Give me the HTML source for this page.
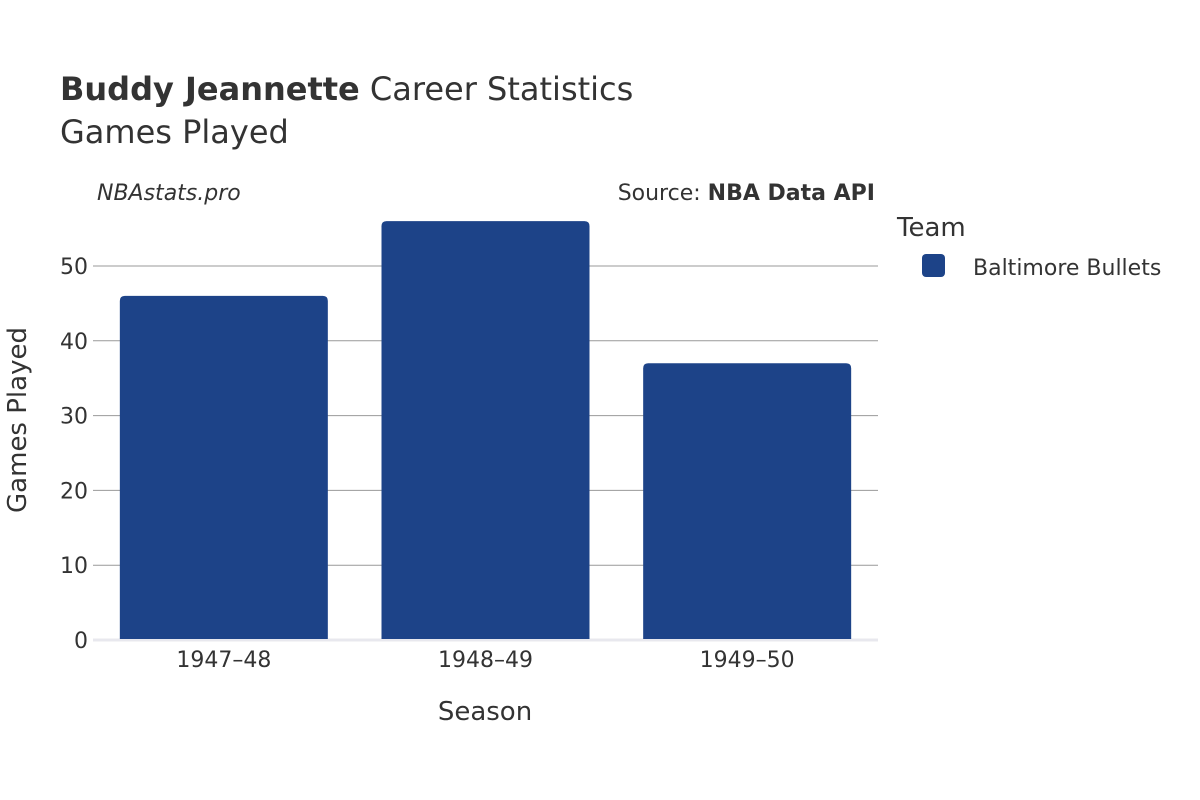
<!DOCTYPE html>
<html><head><meta charset="utf-8"><style>
body{margin:0;background:#fff;}
svg{display:block;font-family:"DejaVu Sans","Liberation Sans",sans-serif;}
</style></head><body>
<svg id="chart" width="1200" height="800">
<text x="60" y="100" font-size="32" fill="#333"><tspan font-weight="bold">Buddy Jeannette</tspan> Career Statistics</text>
<text x="60" y="143" font-size="32" fill="#333">Games Played</text>
<text x="97" y="200" font-size="22" font-style="italic" fill="#333">NBAstats.pro</text>
<text x="875" y="200" font-size="22" fill="#333" text-anchor="end">Source: <tspan font-weight="bold">NBA Data API</tspan></text>
<g id="grid"></g>
<g id="bars"></g>
<g id="xticks"></g>
<text x="485" y="720" font-size="26" fill="#333" text-anchor="middle">Season</text>
<text transform="translate(26,420) rotate(-90)" font-size="26" fill="#333" text-anchor="middle">Games Played</text>
<text x="897" y="236" font-size="26" fill="#333">Team</text>
<rect x="922" y="254" width="23" height="23" rx="4" fill="#1d4388"/>
<text x="973" y="275" font-size="22" fill="#333">Baltimore Bullets</text>
</svg>
<script>
const seasons=["1947–48","1948–49","1949–50"];
const games=[46,56,37];
const yTicks=[0,10,20,30,40,50];
const NS="http://www.w3.org/2000/svg";
const x0=93,x1=878,yBase=640,pxPerUnit=7.48;
const y=v=>yBase-v*pxPerUnit;
const band=(x1-x0)/seasons.length, bw=208;
const grid=document.getElementById('grid'),bars=document.getElementById('bars'),xt=document.getElementById('xticks');
function mk(t,a,p){const e=document.createElementNS(NS,t);for(const k in a)e.setAttribute(k,a[k]);p.appendChild(e);return e;}
yTicks.forEach(v=>{
  const l=mk('line',{x1:x0,x2:x1,y1:y(v),y2:y(v),stroke:v===0?'#e8e8ee':'#999','stroke-width':v===0?3:1},grid);
  
  
  const t=mk('text',{x:88,y:y(v)+8,'font-size':22,fill:'#333','text-anchor':'end'},grid);
  t.textContent=v;
  
  
});
seasons.forEach((s,i)=>{
  const cx=x0+band*(i+0.5);
  const top=y(games[i]);
  const p=mk('path',{d:`M${cx-bw/2},${yBase-1} V${top+5} Q${cx-bw/2},${top} ${cx-bw/2+5},${top} H${cx+bw/2-5} Q${cx+bw/2},${top} ${cx+bw/2},${top+5} V${yBase-1} Z`,fill:'#1d4388'},bars);
  
  
  const t=mk('text',{x:cx,y:667,'font-size':22,fill:'#333','text-anchor':'middle'},xt);
  t.textContent=s;
  
  
});
</script>
</body></html>
